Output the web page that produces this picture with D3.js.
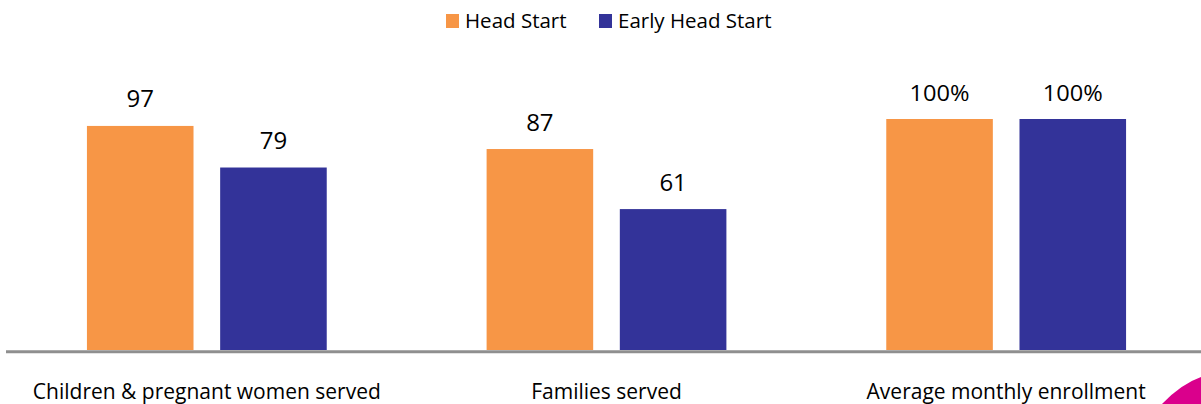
<!DOCTYPE html>
<html>
<head>
<meta charset="utf-8">
<script src="https://cdn.jsdelivr.net/npm/d3@7/dist/d3.min.js"></script>
<style>
  html, body { margin: 0; padding: 0; background: #fff; }
  svg { display: block; font-family: "Open Sans", "Noto Sans", sans-serif; }
</style>
</head>
<body>
<svg id="chart" width="1201" height="404"></svg>
<script>
const categories = ["Children & pregnant women served", "Families served", "Average monthly enrollment"];
const seriesNames = ["Head Start", "Early Head Start"];
const headStart = [97, 87, 100];
const earlyHeadStart = [79, 61, 100];
const valueLabelsHS = ["97", "87", "100%"];
const valueLabelsEHS = ["79", "61", "100%"];
const colors = ["#F79646", "#333399"];

const svg = d3.select("#chart");
const baseY = 350;

const x0 = d3.scaleBand().domain(categories).range([7, 1206]).paddingInner(0.4).paddingOuter(0.2);
const x1 = d3.scaleBand().domain(seriesNames).range([0, x0.bandwidth()]).paddingInner(0.2).paddingOuter(0);
const y = d3.scaleLinear().domain([0, 100]).range([baseY, 119]);
const color = d3.scaleOrdinal().domain(seriesNames).range(colors);

const data = categories.map((c, i) => ({
  cat: c,
  vals: [
    {s: seriesNames[0], v: headStart[i], label: valueLabelsHS[i]},
    {s: seriesNames[1], v: earlyHeadStart[i], label: valueLabelsEHS[i]}
  ]
}));

const g = svg.selectAll("g.grp").data(data).join("g")
  .attr("class", "grp")
  .attr("transform", d => `translate(${x0(d.cat)},0)`);

g.selectAll("rect").data(d => d.vals).join("rect")
  .attr("x", d => x1(d.s))
  .attr("y", d => y(d.v))
  .attr("width", x1.bandwidth())
  .attr("height", d => y(0) - y(d.v))
  .attr("fill", d => color(d.s));

g.selectAll("text.val").data(d => d.vals).join("text")
  .attr("class", "val")
  .attr("x", d => x1(d.s) + x1.bandwidth() / 2)
  .attr("y", d => y(d.v) - 18.5)
  .attr("text-anchor", "middle")
  .attr("fill", "#000")
  .attr("font-size", d => d.label.includes("%") ? 21 : 24)
  .each(function(d) {
    if (d.label.includes("%")) {
      d3.select(this).attr("textLength", 60).attr("lengthAdjust", "spacingAndGlyphs");
    }
  })
  .text(d => d.label);

// baseline axis
const xAxis = d3.axisBottom(x0).tickSize(0).tickPadding(0).tickFormat("");
const axG = svg.append("g").attr("transform", `translate(0,${baseY + 1.7})`).call(xAxis);
axG.select(".domain").attr("d", "M6,0H1201").attr("stroke", "#8f8f8f").attr("stroke-width", 3);

// category labels
svg.selectAll("text.cat").data(categories).join("text")
  .attr("class", "cat")
  .attr("x", d => x0(d) + x0.bandwidth() / 2)
  .attr("y", 399)
  .attr("text-anchor", "middle")
  .attr("font-size", 21)
  .attr("fill", "#000")
  .text(d => d);

// legend
const legendX = [446, 599];
const lg = svg.selectAll("g.leg").data(seriesNames).join("g")
  .attr("class", "leg")
  .attr("transform", (d, i) => `translate(${legendX[i]},0)`);
lg.append("rect").attr("x", 0).attr("y", 14).attr("width", 13).attr("height", 14).attr("fill", d => color(d));
lg.append("text").attr("x", 19).attr("y", 28).attr("font-size", 20.5).attr("fill", "#000").text(d => d);

// decorative corner shape
svg.append("path")
  .attr("d", "M1162,404 Q1181,384 1201,377 L1201,404 Z")
  .attr("fill", "#DA008C");
</script>
</body>
</html>
